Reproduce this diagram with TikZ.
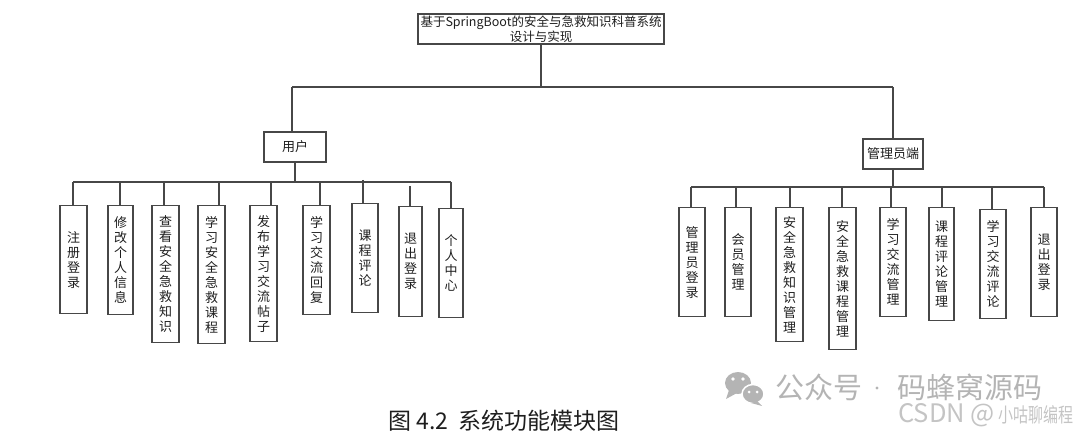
\documentclass[tikz,border=0pt]{standalone}
\usepackage{fontspec}
\newfontfamily\cjk{Noto Sans CJK SC}
\setmainfont{Noto Sans CJK SC}
\definecolor{bcol}{HTML}{474747}
\definecolor{tcol}{HTML}{1E1E1E}
\definecolor{wm}{HTML}{B4B4B4}
\definecolor{wm2}{HTML}{C4C4C4}
\tikzset{
  boxbase/.style={draw=bcol, line width=1.2pt, inner sep=0pt, align=center, text=tcol},
  vbox/.style={boxbase, minimum width=27pt, anchor=north, font=\cjk\fontsize{13}{15}\selectfont},
  hbox/.style={boxbase, font=\cjk\fontsize{13}{15}\selectfont},
  conn/.style={draw=bcol, line width=1.2pt},
}
\begin{document}
\begin{tikzpicture}[x=1pt,y=-1pt]
\useasboundingbox (0,0) rectangle (1080,433);
% root
\node[hbox, minimum width=246pt, minimum height=30pt, font=\cjk\fontsize{12.5}{15}\selectfont] (root) at (541,29) {基于SpringBoot的安全与急救知识科普系统\\设计与实现};
\node[hbox, minimum width=62pt, minimum height=30pt] (user) at (295,147) {用户};
\node[hbox, minimum width=60pt, minimum height=30pt] (admin) at (893,154) {管理员端};
\coordinate (hl) at (292,87);
\coordinate (hr) at (893,87);
\draw[conn] (root.south) -- (root.south |- hl);
\draw[conn] (hl) -- (hr);
\draw[conn] (hl) -- (hl |- user.north);
\draw[conn] (hr) -- (admin.north);
% user children
\node[vbox, minimum height=108pt] (u1) at (73.5,205) {注\\册\\登\\录};
\node[vbox, minimum width=25pt, minimum height=109pt] (u2) at (120.5,205) {修\\改\\个\\人\\信\\息};
\node[vbox, minimum height=137pt] (u3) at (165.5,205) {查\\看\\安\\全\\急\\救\\知\\识};
\node[vbox, minimum height=138pt] (u4) at (211.5,205) {学\\习\\安\\全\\急\\救\\课\\程};
\node[vbox, minimum height=136pt] (u5) at (263.5,205) {发\\布\\学\\习\\交\\流\\帖\\子};
\node[vbox, minimum height=109pt] (u6) at (316.5,205) {学\\习\\交\\流\\回\\复};
\node[vbox, minimum width=26pt, minimum height=109pt] (u7) at (365,203) {课\\程\\评\\论};
\node[vbox, minimum width=23pt, minimum height=110pt] (u8) at (410.5,206) {退\\出\\登\\录};
\node[vbox, minimum width=24pt, minimum height=109pt] (u9) at (451,208) {个\\人\\中\\心};
\coordinate (ubl) at (73,182);
\coordinate (ubr) at (451,182);
\draw[conn] (user.south) -- (user.south |- ubl);
\draw[conn] (ubl) -- (ubr);
\coordinate (c1) at (73,182);
\coordinate (c2) at (120,182);
\coordinate (c3) at (164,182);
\coordinate (c4) at (219,182);
\coordinate (c5) at (271,182);
\coordinate (c6) at (320,182);
\coordinate (c7) at (363,180);
\coordinate (c8) at (410,186);
\coordinate (c9) at (451,182);
\foreach \i in {1,...,9} {\draw[conn] (c\i) -- (c\i |- u\i.north);}
% admin children
\node[vbox, minimum width=26pt, minimum height=109pt] (a1) at (692,207) {管\\理\\员\\登\\录};
\node[vbox, minimum width=26pt, minimum height=109pt] (a2) at (738,207) {会\\员\\管\\理};
\node[vbox, minimum height=134pt] (a3) at (789.5,207) {安\\全\\急\\救\\知\\识\\管\\理};
\node[vbox, minimum height=142pt] (a4) at (842.5,207) {安\\全\\急\\救\\课\\程\\管\\理};
\node[vbox, minimum width=26pt, minimum height=109pt] (a5) at (893,207) {学\\习\\交\\流\\管\\理};
\node[vbox, minimum width=25pt, minimum height=113pt] (a6) at (941.5,207) {课\\程\\评\\论\\管\\理};
\node[vbox, minimum width=26pt, minimum height=109pt] (a7) at (993,209) {学\\习\\交\\流\\评\\论};
\node[vbox, minimum width=26pt, minimum height=109pt] (a8) at (1044,207) {退\\出\\登\\录};
\coordinate (abl) at (691,187);
\coordinate (abr) at (1044,187);
\draw[conn] (admin.south) -- (admin.south |- abl);
\draw[conn] (abl) -- (abr);
\coordinate (d1) at (691,187);
\coordinate (d2) at (736,187);
\coordinate (d3) at (790,187);
\coordinate (d4) at (842,187);
\coordinate (d5) at (891,187);
\coordinate (d6) at (942,187);
\coordinate (d7) at (992,187);
\coordinate (d8) at (1044,187);
\foreach \i in {1,...,8} {\draw[conn] (d\i) -- (d\i |- a\i.north);}
% caption
\node[text=tcol, font=\cjk\fontsize{23}{25}\selectfont, inner sep=0pt] (cap) at (504,421) {图 4.2\ \ 系统功能模块图};
% watermark
\fill[wm] (738pt,-383pt) ellipse [x radius=13pt, y radius=11pt];
\fill[wm] (729,390) -- (726,399) -- (737,393) -- cycle;
\fill[white] (733,379) circle [radius=1.8pt];
\fill[white] (743,379) circle [radius=1.8pt];
\filldraw[fill=wm, draw=white, line width=1.5pt] (753pt,-394pt) ellipse [x radius=11pt, y radius=9.5pt];
\fill[wm] (757,401) -- (762,406) -- (751,403) -- cycle;
\fill[white] (749,392) circle [radius=1.5pt];
\fill[white] (757,392) circle [radius=1.5pt];
\node[text=wm, font=\cjk\fontsize{29}{32}\selectfont, inner sep=0pt, anchor=west] (wm1) at (775,387) {公众号};
\fill[wm] (877,388) circle [radius=1.6pt];
\node[text=wm, font=\cjk\fontsize{29}{32}\selectfont, inner sep=0pt, anchor=west] (wm2) at (897,387) {码蜂窝源码};
\node[text=wm2, font=\cjk\fontsize{25.5}{28}\selectfont, inner sep=0pt, anchor=base west] (cs1) at (898,422) {CSDN @};
\node[text=wm2, font=\cjk\fontsize{20}{22}\selectfont, inner sep=0pt, anchor=base east] (cs2) at (1074,422) {\scalebox{0.75}[1]{小咕聊编程}};
\end{tikzpicture}
\end{document}
